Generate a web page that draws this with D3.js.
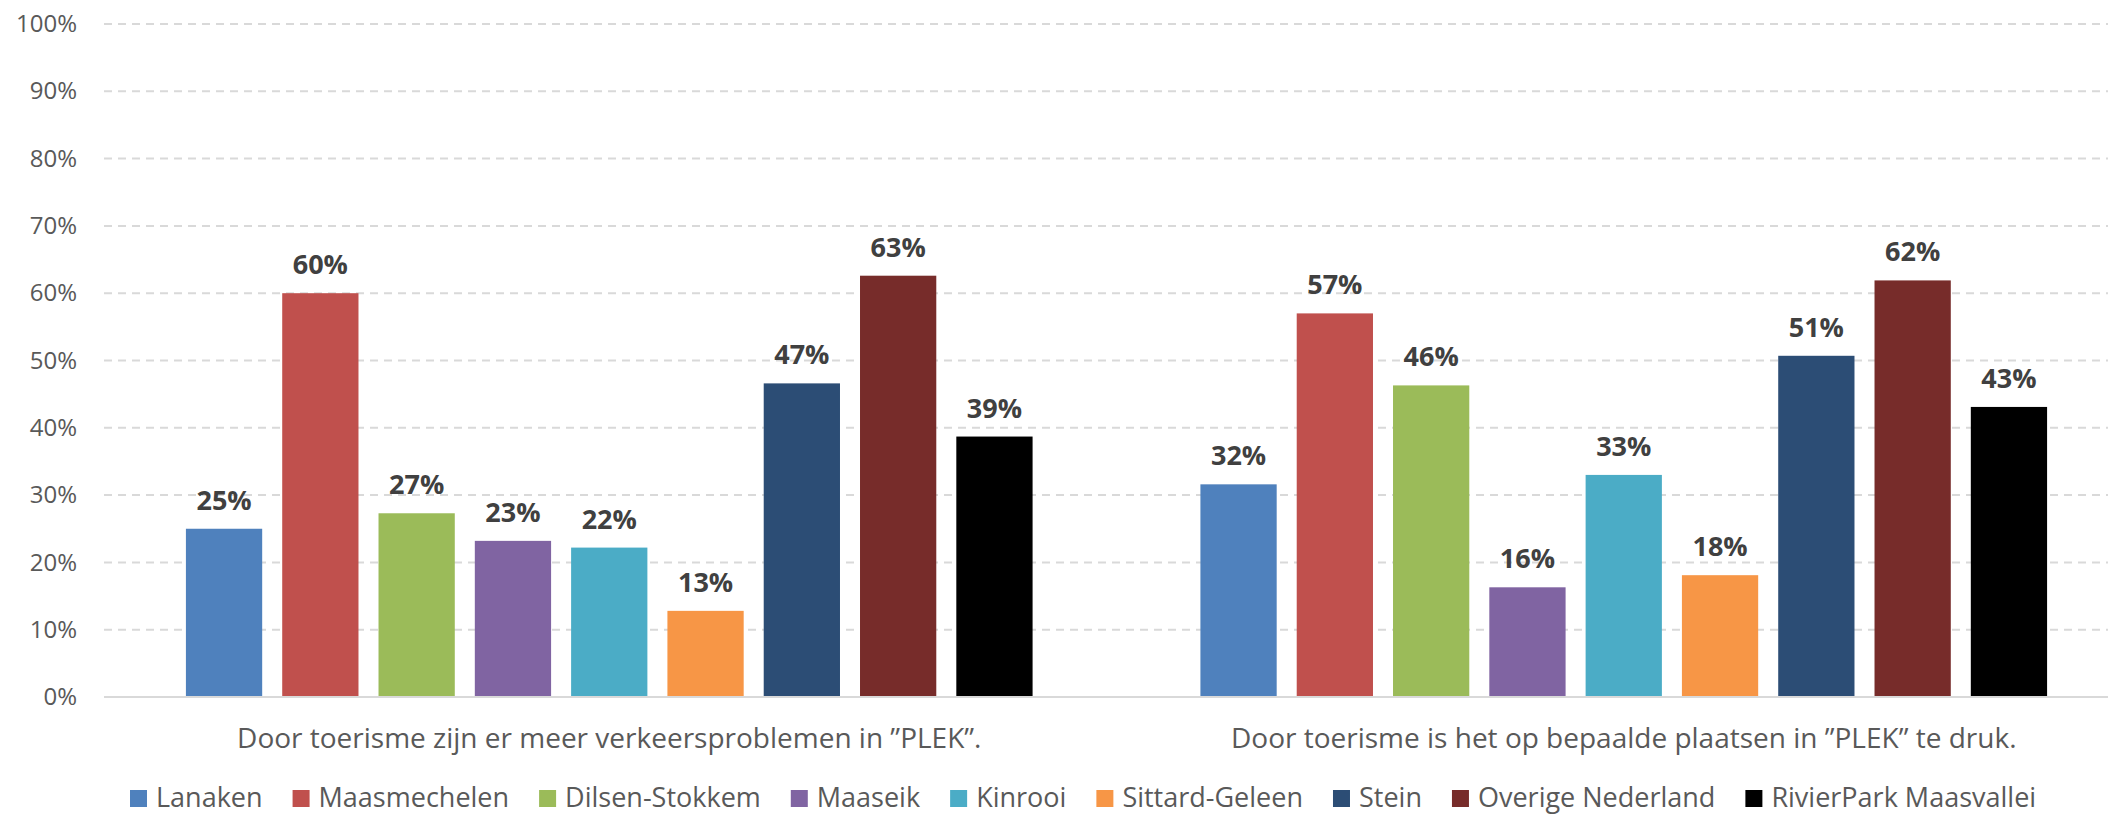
<!DOCTYPE html>
<html>
<head>
<meta charset="utf-8">
<script src="https://cdn.jsdelivr.net/npm/d3@7"></script>
<style>
  body { margin: 0; background: #fff; }
  svg { display: block; font-family: "Open Sans", sans-serif; }
</style>
</head>
<body>
<svg id="chart" width="2108" height="816"></svg>
<script>
var categories = [
  "Door toerisme zijn er meer verkeersproblemen in \u201dPLEK\u201d.",
  "Door toerisme is het op bepaalde plaatsen in \u201dPLEK\u201d te druk."
];
var series = ["Lanaken", "Maasmechelen", "Dilsen-Stokkem", "Maaseik", "Kinrooi",
  "Sittard-Geleen", "Stein", "Overige Nederland", "RivierPark Maasvallei"];
var colors = ["#4F81BD", "#C0504D", "#9BBB59", "#8064A2", "#4BACC6",
  "#F79646", "#2C4D75", "#772C2A", "#000000"];
var verkeer = [0.250, 0.600, 0.273, 0.232, 0.222, 0.128, 0.466, 0.626, 0.387];
var druk = [0.316, 0.570, 0.463, 0.163, 0.330, 0.181, 0.507, 0.619, 0.431];
var yTicks = [0, 0.1, 0.2, 0.3, 0.4, 0.5, 0.6, 0.7, 0.8, 0.9, 1.0];

var values = [verkeer, druk];
var data = categories.map(function(c, i) {
  return { category: c, values: series.map(function(s, j) {
    return { name: s, value: values[i][j], color: colors[j] };
  }) };
});

var svg = d3.select("#chart");
var pct = d3.format(".0%");

var x0 = d3.scaleBand().domain(categories).range([102, 2131]);
var step = 96.3;
var x1 = d3.scaleBand().domain(series)
  .range([(x0.bandwidth() - step * series.length) / 2, (x0.bandwidth() + step * series.length) / 2])
  .paddingInner(0.208).paddingOuter(0.104);
var y = d3.scaleLinear().domain([0, 1]).range([697, 24]);

// grid lines
svg.append("g").attr("class", "grid")
  .selectAll("line")
  .data(yTicks.filter(function(d) { return d > 0; }))
  .enter().append("line")
  .attr("x1", 104).attr("x2", 2108)
  .attr("y1", function(d) { return y(d); })
  .attr("y2", function(d) { return y(d); })
  .style("stroke", "#d9d9d9")
  .style("stroke-width", 2)
  .style("stroke-dasharray", "8,6");

// y axis labels
var yAxis = svg.append("g")
  .attr("class", "y axis")
  .attr("transform", "translate(77,0)")
  .call(d3.axisLeft(y).tickValues(yTicks).tickFormat(pct).tickSize(0).tickPadding(0));
yAxis.select(".domain").remove();
yAxis.selectAll("text")
  .style("font-family", "Open Sans, sans-serif")
  .style("font-size", "24px")
  .style("fill", "#595959");

// bars
var groups = svg.selectAll(".group")
  .data(data)
  .enter().append("g")
  .attr("class", "group")
  .attr("transform", function(d) { return "translate(" + x0(d.category) + ",0)"; });

groups.selectAll("rect")
  .data(function(d) { return d.values; })
  .enter().append("rect")
  .attr("x", function(d) { return x1(d.name); })
  .attr("width", x1.bandwidth())
  .attr("y", function(d) { return y(d.value); })
  .attr("height", function(d) { return y(0) - y(d.value); })
  .style("fill", function(d) { return d.color; });

groups.selectAll(".lbl")
  .data(function(d) { return d.values; })
  .enter().append("text")
  .attr("class", "lbl")
  .attr("x", function(d) { return x1(d.name) + x1.bandwidth() / 2; })
  .attr("y", function(d) { return y(d.value) - 19; })
  .attr("text-anchor", "middle")
  .style("font-size", "27px")
  .style("font-weight", 700)
  .style("fill", "#404040")
  .text(function(d) { return pct(d.value); });

// baseline
svg.append("line")
  .attr("x1", 104).attr("x2", 2108)
  .attr("y1", y(0)).attr("y2", y(0))
  .style("stroke", "#d9d9d9")
  .style("stroke-width", 2);

// category labels
svg.append("g").selectAll("text")
  .data(categories)
  .enter().append("text")
  .attr("x", function(d) { return x0(d) + x0.bandwidth() / 2; })
  .attr("y", 748)
  .attr("text-anchor", "middle")
  .style("font-size", "28px")
  .style("fill", "#595959")
  .text(function(d) { return d; });

// legend
var legend = svg.append("g").attr("class", "legend");
var lx = 130;
series.forEach(function(s, i) {
  legend.append("rect")
    .attr("x", lx).attr("y", 790)
    .attr("width", 17).attr("height", 17)
    .style("fill", colors[i]);
  var t = legend.append("text")
    .attr("x", lx + 26).attr("y", 807)
    .style("font-size", "27px")
    .style("fill", "#595959")
    .text(s);
  lx += 26 + t.node().getComputedTextLength() + 30;
});
</script>
</body>
</html>
